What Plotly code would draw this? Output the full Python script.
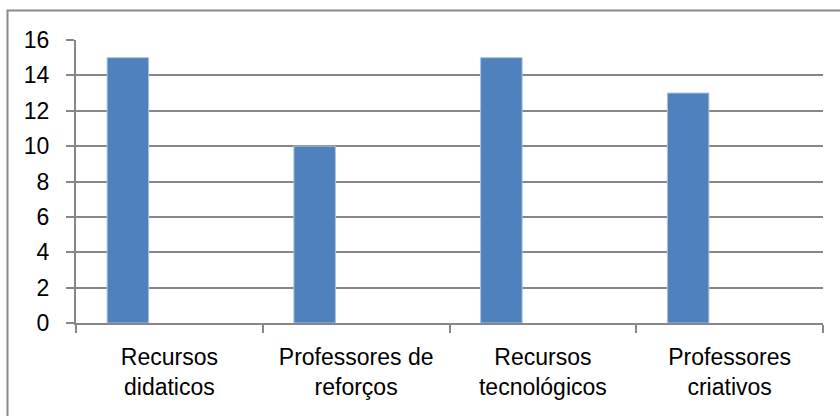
import plotly.graph_objects as go

categories = ["Recursos<br>didaticos", "Professores de<br>reforços", "Recursos<br>tecnológicos", "Professores<br>criativos"]
values = [15, 10, 15, 13]
y_ticks = [0, 2, 4, 6, 8, 10, 12, 14, 16]

W, H = 840, 416
L, R, T, B = 76, 17, 40, 93
pw, ph = W - L - R, H - T - B

fig = go.Figure()
fig.add_trace(go.Bar(
    x=categories, y=values,
    width=0.2222, offset=-0.3333,
    marker=dict(color="#4F81BD", line=dict(color="#a9c1e0", width=1)),
    showlegend=False,
))

font = dict(family="Liberation Sans, Arial, sans-serif", size=23, color="#000000")
gray = "#878787"

fig.update_layout(
    width=W, height=H,
    margin=dict(l=L, r=R, t=T, b=B, pad=0),
    paper_bgcolor="white", plot_bgcolor="white",
    font=font,
    xaxis=dict(
        type="category", range=[-0.5, 3.5],
        showgrid=False, showline=True, linecolor=gray, linewidth=2,
        ticks="outside", tickson="boundaries", ticklen=8, tickwidth=2, tickcolor=gray,
        ticklabelstandoff=12,
        tickfont=font,
    ),
    yaxis=dict(
        range=[0, 16], tickvals=y_ticks, ticktext=[str(v) for v in y_ticks],
        showgrid=True, gridcolor=gray, gridwidth=2,
        showline=True, linecolor=gray, linewidth=2,
        ticks="outside", ticklen=8, tickwidth=2, tickcolor=gray,
        ticklabelstandoff=12,
        zeroline=False,
        tickfont=font,
    ),
    shapes=[dict(
        type="rect", xref="paper", yref="paper",
        x0=(7.5 - L) / pw, x1=(860 - L) / pw,
        y0=-(440 - (H - B)) / ph, y1=1 + (T - 10.5) / ph,
        line=dict(color="#8a8a8a", width=2), fillcolor="rgba(0,0,0,0)", layer="below",
    )],
)

fig.write_html(
    "out.html",
    config={"displayModeBar": False, "staticPlot": True},
    post_script="document.body.style.margin='0';document.body.style.overflow='hidden';",
)
